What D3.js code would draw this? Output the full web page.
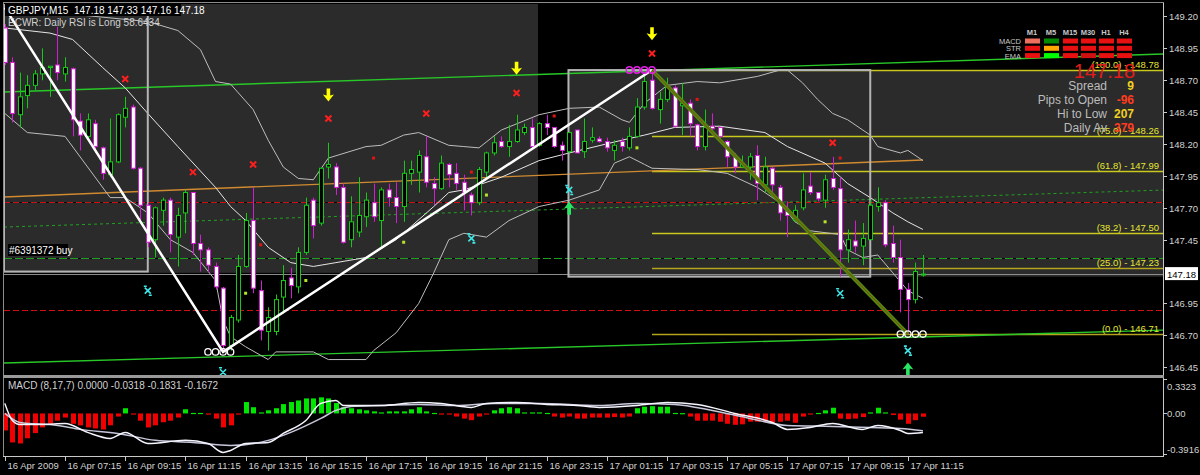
<!DOCTYPE html>
<html><head><meta charset="utf-8">
<script src="https://cdn.jsdelivr.net/npm/d3@7"></script>
<style>
html,body{margin:0;padding:0;background:#000;}
svg{display:block;font-family:"Liberation Sans",Arial,sans-serif;}
</style></head><body>
<svg id="c" width="1200" height="475"></svg>
<script>
// ---------------- DATA ----------------
const symbolTitle = "GBPJPY,M15  147.18 147.33 147.16 147.18";
const rsiText = "ECWR: Daily RSI is Long 58.6434";
const orderText = "#6391372 buy";
const macdTitle = "MACD (8,17,7) 0.0000 -0.0318 -0.1831 -0.1672";

const opens  = [149.11,148.84,148.43,148.58,148.66,148.75,148.80,148.82,148.75,148.79,148.38,148.26,148.36,148.17,147.96,148.06,148.41,148.49,148.01,147.72,147.45,147.68,147.76,147.47,147.66,147.82,147.42,147.37,147.24,147.07,146.62,146.82,147.24,147.60,147.05,146.73,146.73,147.00,147.15,147.08,147.35,147.76,147.58,148.02,148.02,147.86,147.45,147.51,147.63,147.74,147.60,147.84,147.78,147.71,147.97,147.98,148.10,147.89,147.85,148.04,147.97,147.90,147.80,147.74,147.98,148.13,148.22,148.18,148.22,148.29,148.33,148.19,148.36,148.33,148.19,148.14,148.31,148.14,148.23,148.24,148.22,148.15,148.22,148.17,148.26,148.49,148.70,148.47,148.55,148.64,148.50,148.52,148.35,148.18,148.34,148.33,148.22,148.10,148.02,148.02,148.11,147.88,148.01,147.86,147.67,147.60,147.70,147.87,147.82,147.76,147.93,147.85,147.37,147.44,147.40,147.45,147.71,147.74,147.42,147.31,147.06,146.98,147.18];
const highs  = [149.14,148.88,148.76,148.74,148.78,148.95,148.81,149.12,148.88,148.80,148.44,148.44,148.39,148.18,148.40,148.44,148.57,148.51,148.02,147.74,147.71,147.78,147.78,147.70,147.84,147.82,147.49,147.39,147.27,147.08,146.86,147.33,147.66,147.86,147.13,146.92,147.02,147.25,147.23,147.39,147.78,147.78,148.02,148.21,148.05,147.89,147.79,147.94,147.82,147.89,147.86,147.89,147.90,148.07,148.07,148.15,148.26,147.94,148.11,148.05,148.05,147.96,147.82,148.02,148.14,148.26,148.26,148.35,148.43,148.36,148.40,148.37,148.43,148.33,148.22,148.29,148.31,148.40,148.33,148.26,148.25,148.23,148.25,148.33,148.56,148.76,148.78,148.61,148.72,148.66,148.68,148.55,148.36,148.47,148.44,148.33,148.23,148.13,148.11,148.13,148.19,148.10,148.02,147.88,147.75,147.72,147.97,147.98,147.82,147.96,148.10,147.94,147.53,147.60,147.58,147.76,147.86,147.76,147.56,147.45,147.11,147.27,147.33];
const lows   = [148.82,148.37,148.33,148.48,148.62,148.70,148.57,148.70,148.69,148.26,148.15,148.23,148.13,147.92,147.94,148.05,148.33,148.00,147.60,147.39,147.31,147.56,147.35,147.24,147.50,147.33,147.20,147.19,147.06,146.57,146.58,146.80,147.23,147.03,146.66,146.58,146.70,146.87,146.99,147.03,147.33,147.46,147.56,147.93,147.80,147.42,147.39,147.47,147.55,147.59,147.39,147.71,147.58,147.59,147.88,147.82,147.86,147.72,147.84,147.86,147.84,147.68,147.64,147.72,147.94,148.11,148.17,148.10,148.21,148.27,148.17,148.18,148.27,148.17,148.07,148.13,148.13,148.09,148.21,148.21,148.14,148.07,148.14,148.15,148.25,148.47,148.47,148.36,148.53,148.33,148.27,148.26,148.15,148.15,148.31,148.21,148.02,147.97,148.01,147.92,147.76,147.82,147.82,147.60,147.47,147.59,147.68,147.80,147.75,147.70,147.84,147.16,147.27,147.35,147.25,147.45,147.67,147.39,147.27,146.88,146.71,146.95,147.16];
const closes = [148.84,148.44,148.57,148.66,148.75,148.80,148.81,148.76,148.80,148.39,148.27,148.39,148.18,147.97,148.06,148.43,148.48,148.01,147.72,147.43,147.70,147.76,147.49,147.64,147.82,147.42,147.37,147.25,147.08,146.62,146.84,147.24,147.60,147.07,146.74,146.84,146.98,147.13,147.09,147.35,147.72,147.56,148.01,148.04,147.86,147.43,147.59,147.64,147.76,147.63,147.84,147.78,147.71,147.97,148.00,148.11,147.90,147.85,148.05,147.96,147.89,147.82,147.74,148.00,148.13,148.21,148.18,148.22,148.31,148.33,148.18,148.36,148.33,148.18,148.15,148.29,148.13,148.22,148.25,148.22,148.17,148.19,148.18,148.26,148.49,148.69,148.48,148.55,148.65,148.34,148.52,148.36,148.18,148.33,148.32,148.26,148.10,148.02,148.04,148.10,147.89,148.02,147.88,147.66,147.64,147.68,147.84,147.82,147.77,147.92,147.86,147.37,147.45,147.40,147.46,147.72,147.74,147.41,147.31,147.06,146.98,147.20,147.18];

const macdHist = [-0.164,-0.28,-0.29,-0.24,-0.19,-0.135,-0.10,-0.07,-0.04,-0.10,-0.115,-0.135,-0.145,-0.155,-0.115,-0.03,0.05,-0.005,-0.07,-0.135,-0.115,-0.085,-0.07,-0.04,0.04,0.005,0.005,-0.01,-0.05,-0.135,-0.115,-0.01,0.11,0.06,0.01,0.03,0.05,0.09,0.11,0.125,0.145,0.145,0.155,0.145,0.10,0.06,0.05,0.04,0.03,0.02,0.01,0.02,0.02,0.02,0.04,0.06,0.02,0.005,-0.005,-0.01,-0.03,-0.05,-0.065,-0.03,-0.01,0.03,0.05,0.06,0.05,0.01,0.01,0.01,0.005,-0.03,-0.04,-0.03,-0.05,-0.05,-0.04,-0.04,-0.04,-0.035,-0.04,-0.03,0.05,0.065,0.07,0.065,0.065,0.005,0.003,-0.03,-0.07,-0.07,-0.07,-0.08,-0.10,-0.11,-0.105,-0.08,-0.08,-0.08,-0.09,-0.08,-0.07,-0.09,-0.03,-0.01,0.005,0.03,0.055,-0.05,-0.055,-0.05,-0.035,0.01,0.055,0.01,-0.015,-0.06,-0.10,-0.065,-0.0318];
const macdLineA = [[0,0.097],[1,-0.068],[2,-0.106],[5,-0.106],[8,-0.097],[11,-0.183],[14,-0.241],[16,-0.183],[19,-0.29],[24,-0.26],[27,-0.29],[29,-0.376],[30,-0.357],[32,-0.29],[35,-0.28],[37,-0.193],[40,-0.068],[42,0.097],[44,0.125],[45,0.077],[50,0.077],[55,0.106],[58,0.097],[62,0.058],[64,0.097],[68,0.106],[72,0.087],[76,0.077],[79,0.058],[84,0.077],[88,0.106],[92,0.087],[97,0.0],[102,-0.087],[104,-0.154],[107,-0.135],[110,-0.097],[114,-0.154],[116,-0.116],[119,-0.164],[120,-0.193],[122,-0.1831]];
const macdLineB = [[0,0.0],[2,-0.087],[7,-0.116],[10,-0.154],[15,-0.193],[20,-0.26],[25,-0.28],[30,-0.309],[35,-0.26],[38,-0.183],[42,-0.048],[44,0.029],[46,0.068],[50,0.077],[55,0.087],[60,0.077],[65,0.097],[71,0.097],[79,0.077],[84,0.097],[89,0.087],[94,0.029],[99,-0.048],[104,-0.116],[110,-0.125],[115,-0.135],[119,-0.145],[122,-0.1672]];

const bbUpper = [[0,149.27],[19,149.16],[23,149.09],[26,148.94],[28,148.69],[30,148.67],[33,148.47],[35,148.23],[37,148.02],[39,147.93],[41,147.92],[43,148.09],[48,148.18],[50,148.19],[53,148.27],[55,148.29],[59,148.19],[61,148.18],[63,148.17],[66,148.31],[71,148.43],[75,148.48],[79,148.49],[82,148.39],[83,148.37],[85,148.52],[88,148.66],[92,148.69],[95,148.68],[100,148.73],[103,148.78],[104,148.78],[106,148.68],[108,148.55],[110,148.44],[112,148.39],[115,148.27],[116,148.18],[119,148.13],[120,148.15],[122,148.07]];
const bbMiddle = [[0,149.11],[6,149.07],[9,149.02],[13,148.80],[16,148.64],[19,148.44],[23,148.18],[28,147.86],[30,147.71],[32,147.60],[35,147.39],[38,147.27],[41,147.24],[44,147.27],[48,147.31],[52,147.45],[57,147.71],[59,147.82],[61,147.84],[66,147.94],[71,148.07],[75,148.13],[82,148.23],[85,148.27],[89,148.33],[95,148.34],[101,148.29],[104,148.18],[109,148.05],[112,147.89],[115,147.78],[118,147.66],[120,147.59],[122,147.53]];
const bbLower = [[0,148.44],[3,148.29],[8,148.26],[11,148.02],[14,147.78],[16,147.78],[19,147.66],[22,147.45],[25,147.35],[28,147.13],[29,146.82],[30,146.69],[32,146.61],[35,146.51],[36,146.57],[41,146.57],[43,146.51],[48,146.51],[49,146.58],[52,146.72],[55,146.95],[57,147.19],[59,147.45],[61,147.50],[64,147.47],[67,147.60],[71,147.71],[75,147.76],[79,147.84],[81,148.05],[83,148.10],[85,148.04],[86,148.01],[92,148.00],[96,147.97],[100,147.86],[103,147.74],[105,147.59],[107,147.52],[111,147.49],[112,147.37],[114,147.31],[116,147.33],[118,147.19],[120,147.05],[122,146.99]];

const zigzag = [[0,149.27],[29,146.57],[86,148.78]];
const fiboDown = [[86,148.78],[120,146.71]];
const channelUpper = [[-0.1,148.608],[153.9,148.906]];
const channelLower = [[-0.1,146.483],[153.9,146.741]];
const orangeTrend  = [[-0.1,147.785],[122,148.075]];
const greenDashTrend = [[-0.1,147.549],[153.9,147.839]];
const redDashLevels = [147.745,146.90];
const orderLevel = 147.31;
const bidPrice = 147.18;

const fibNames  = ["(100.0)","(75.0)","(61.8)","(38.2)","(25.0)","(0.0)"];
const fibPrices = [148.78,148.26,147.99,147.50,147.23,146.71];
const fibStartBar = 86;

const shadedBoxes = [[-0.106,70.85,147.19,149.30],[115,153.9,147.16,148.78]];
const outlinedBoxes = [[74.9,115,147.16,148.78],[-0.106,19.0,147.20,149.30]];

const redCrosses   = [[7,149.23],[16,148.71],[25,147.98],[33,148.04],[43,148.40],[56,148.44],[68,148.60],[86,148.91],[110,148.21]];
const redDots      = [[34,147.41],[49,148.09],[62,147.98],[73,148.42],[92,148.55],[111,148.09]];
const limeDots     = [[32,147.03],[40,147.13],[53,147.43],[64,147.80],[84,148.17],[109,147.59]];
const cyanCrosses  = [[19,147.05],[29,146.41],[62,147.46],[75,147.84],[111,147.03],[120,146.58]];
const upArrows     = [[75,147.70],[120,146.44]];
const downArrows   = [[43,148.58],[68,148.79],[86,149.06]];
const topCircles   = [[83,148.78],[84,148.78],[85,148.78],[86,148.78]];
const lowCirclesA  = [[27,146.57],[28,146.57],[29,146.57],[30,146.57]];
const lowCirclesB  = [[119,146.71],[120,146.71],[121,146.71],[122,146.71]];

const priceTicks = [149.20,148.95,148.70,148.45,148.20,147.95,147.70,147.45,146.95,146.70,146.45];
const timeTickBars = [0,8,16,24,32,40,48,56,64,72,80,88,96,104,112,120];
const timeTickLabels = ["16 Apr 2009","16 Apr 07:15","16 Apr 09:15","16 Apr 11:15","16 Apr 13:15","16 Apr 15:15","16 Apr 17:15","16 Apr 19:15","16 Apr 21:15","16 Apr 23:15","17 Apr 01:15","17 Apr 03:15","17 Apr 05:15","17 Apr 07:15","17 Apr 09:15","17 Apr 11:15"];
const macdAxisTicks = [0.3323,0.00,-0.3916];
const macdAxisLabels = ["0.3323","0.00","-0.3916"];

const infoLabels = ["Spread","Pips to Open","Hi to Low","Daily Av"];
const infoValues = ["9","-96","207","379"];
const infoValueColors = ["#f0d020","#ff3c1e","#f0d020","#ff3c1e"];

const mtfCols = ["M1","M5","M15","M30","H1","H4"];
const mtfRows = ["MACD","STR","EMA"];
const mtfColors = [
  ["#f07060","#008a00","#e81010","#e81010","#e81010","#e81010"],
  ["#e81010","#ffa800","#e81010","#e81010","#e81010","#e81010"],
  ["#e81010","#00ff00","#e81010","#d01010","#e81010","#e81010"]
];

// ---------------- SCALES ----------------
const svg = d3.select("#c");
const PL = 4, PR = 1163, PT = 4, PB = 376;
const x = d3.scaleLinear().domain([-0.106, 153.9]).range([PL, PR]);
const y = d3.scaleLinear().domain([146.381, 149.298]).range([PB, PT]);
const ym = d3.scaleLinear().domain([-0.3916, 0.3323]).range([454, 379]);

svg.append("rect").attr("width",1200).attr("height",475).attr("fill","#000");

const defs = svg.append("defs");
defs.append("clipPath").attr("id","mainClip").append("rect").attr("x",PL).attr("y",PT).attr("width",PR-PL).attr("height",PB-PT);
defs.append("clipPath").attr("id","macdClip").append("rect").attr("x",PL).attr("y",379).attr("width",PR-PL).attr("height",77);

const main = svg.append("g").attr("clip-path","url(#mainClip)");
const lineGen = d3.line().x(d=>x(d[0])).y(d=>y(d[1]));

// shaded session areas
main.selectAll("rect.shade").data(shadedBoxes).join("rect")
  .attr("x",d=>x(d[0])).attr("width",d=>x(d[1])-x(d[0]))
  .attr("y",d=>y(d[3])).attr("height",d=>y(d[2])-y(d[3]))
  .attr("fill","#2b2b2b");
main.selectAll("rect.shadeB").data(outlinedBoxes.slice(0,1)).join("rect")
  .attr("x",d=>x(d[0])).attr("width",d=>x(d[1])-x(d[0]))
  .attr("y",d=>y(d[3])).attr("height",d=>y(d[2])-y(d[3]))
  .attr("fill","#2b2b2b");

// horizontal dashed levels
redDashLevels.forEach(p=>{
  main.append("line").attr("x1",PL).attr("x2",PR).attr("y1",Math.round(y(p))+0.5).attr("y2",Math.round(y(p))+0.5).attr("stroke","#000").attr("stroke-width",1);
  main.append("line").attr("x1",PL).attr("x2",PR).attr("y1",Math.round(y(p))+0.5).attr("y2",Math.round(y(p))+0.5).attr("stroke","#d01010").attr("stroke-width",1).attr("stroke-dasharray","6 3");
});
main.append("line").attr("x1",PL).attr("x2",PR).attr("y1",Math.round(y(orderLevel))+0.5).attr("y2",Math.round(y(orderLevel))+0.5).attr("stroke","#000");
main.append("line").attr("x1",PL).attr("x2",PR).attr("y1",Math.round(y(orderLevel))+0.5).attr("y2",Math.round(y(orderLevel))+0.5).attr("stroke","#1ea01e").attr("stroke-dasharray","8 3");
main.append("path").attr("d",lineGen(greenDashTrend)).attr("fill","none").attr("stroke","#20a020").attr("stroke-dasharray","3 3");
main.append("line").attr("x1",PL).attr("x2",PR).attr("y1",Math.round(y(bidPrice))+0.5).attr("y2",Math.round(y(bidPrice))+0.5).attr("stroke","#8c8c8c");

// fib lines
fibPrices.forEach((p,k)=>{
  main.append("line").attr("x1",x(fibStartBar)).attr("x2",PR)
    .attr("y1",Math.round(y(p))+0.5).attr("y2",Math.round(y(p))+0.5)
    .attr("stroke", k>=4 ? "#b4a41e" : "#c8c81e").attr("stroke-width",1.3);
});

// channels
main.append("path").attr("d",lineGen(channelUpper)).attr("fill","none").attr("stroke","#28c828").attr("stroke-width",1.4);
main.append("path").attr("d",lineGen(channelLower)).attr("fill","none").attr("stroke","#28c828").attr("stroke-width",1.4);
main.append("path").attr("d",lineGen(orangeTrend)).attr("fill","none").attr("stroke","#d08a30").attr("stroke-width",1.4);

// bollinger
main.append("path").attr("d",lineGen(bbUpper)).attr("fill","none").attr("stroke","#bdbdbd").attr("stroke-width",1);
main.append("path").attr("d",lineGen(bbMiddle)).attr("fill","none").attr("stroke","#e6e6e6").attr("stroke-width",1);
main.append("path").attr("d",lineGen(bbLower)).attr("fill","none").attr("stroke","#bdbdbd").attr("stroke-width",1);

// outlined boxes
main.selectAll("rect.out").data(outlinedBoxes).join("rect")
  .attr("x",d=>x(d[0])).attr("width",d=>x(d[1])-x(d[0]))
  .attr("y",d=>y(d[3])).attr("height",d=>y(d[2])-y(d[3]))
  .attr("fill","none").attr("stroke","#b4b4b4").attr("stroke-width",2);

// candles
const bars = d3.range(opens.length).map(i=>({i,o:opens[i],h:highs[i],l:lows[i],c:closes[i]}));
const cg = main.append("g");
bars.forEach(b=>{
  const bull = b.c >= b.o;
  const cx = Math.round(x(b.i));
  const col = bull ? "#18c818" : "#d21ed2";
  cg.append("line").attr("x1",cx+0.5).attr("x2",cx+0.5).attr("y1",y(b.h)).attr("y2",y(b.l)).attr("stroke",col).attr("stroke-width",1);
  const top = y(Math.max(b.o,b.c)), bot = y(Math.min(b.o,b.c));
  cg.append("rect").attr("x",cx-1.5).attr("width",4).attr("y",top).attr("height",Math.max(1,bot-top))
    .attr("fill", bull ? "#000" : "#fff").attr("stroke",col).attr("stroke-width",1);
});

// zigzag & fibo diagonal
main.append("path").attr("d",lineGen(zigzag)).attr("fill","none").attr("stroke","#fff").attr("stroke-width",2.5);
main.append("path").attr("d",lineGen(fiboDown)).attr("fill","none").attr("stroke","#4f8a12").attr("stroke-width",4);
main.append("path").attr("d",lineGen(fiboDown)).attr("fill","none").attr("stroke","#a0320a").attr("stroke-width",1).attr("opacity",0.8);

// markers
const crossPath = s => `M${-s},${-s}L${s},${s}M${s},${-s}L${-s},${s}`;
main.selectAll("path.rx").data(redCrosses).join("path")
  .attr("transform",d=>`translate(${x(d[0])},${y(d[1])})`).attr("d",crossPath(3)).attr("stroke","#ff1e1e").attr("stroke-width",2);
main.selectAll("path.cx").data(cyanCrosses).join("path")
  .attr("transform",d=>`translate(${x(d[0])},${y(d[1])})`).attr("d",crossPath(3)+"M-4,-4.5L-1,-4.5M1,4.5L4,4.5").attr("stroke","#3ce6e6").attr("stroke-width",1.6);
main.selectAll("rect.rd").data(redDots).join("rect")
  .attr("x",d=>x(d[0])-1.5).attr("y",d=>y(d[1])-1.5).attr("width",3).attr("height",3).attr("fill","#e01414");
main.selectAll("rect.ld").data(limeDots).join("rect")
  .attr("x",d=>x(d[0])-1.5).attr("y",d=>y(d[1])-1.5).attr("width",3).attr("height",3).attr("fill","#b4e628");
const downArrow = "M-1.8,-7L1.8,-7L1.8,0L5.5,-1L0,6L-5.5,-1L-1.8,0Z";
main.selectAll("path.da").data(downArrows).join("path")
  .attr("transform",d=>`translate(${x(d[0])},${y(d[1])})`).attr("d",downArrow).attr("fill","#ffff00");
main.selectAll("path.ua").data(upArrows).join("path")
  .attr("transform",d=>`translate(${x(d[0])},${y(d[1])}) scale(1,-1)`).attr("d",downArrow).attr("fill","#28e664");
main.selectAll("circle.tc").data(topCircles).join("circle")
  .attr("cx",d=>x(d[0])).attr("cy",d=>y(d[1])).attr("r",3.2).attr("fill","none").attr("stroke","#e61ee6").attr("stroke-width",1.5);
main.selectAll("circle.lc").data(lowCirclesA.concat(lowCirclesB)).join("circle")
  .attr("cx",d=>x(d[0])).attr("cy",d=>y(d[1])).attr("r",3.2).attr("fill","none").attr("stroke","#fff").attr("stroke-width",1.3);

// fib labels
fibPrices.forEach((p,k)=>{
  main.append("text").attr("x",PR-4).attr("y",y(p)-2).attr("text-anchor","end")
    .attr("font-size",9.5).attr("fill","#e6e632").text(`${fibNames[k]} - ${p.toFixed(2)}`);
});

// header texts
svg.append("rect").attr("x",5).attr("y",4).attr("width",176).attr("height",12).attr("fill","#000");
svg.append("text").attr("x",8).attr("y",14).attr("font-size",10).attr("fill","#fff").attr("xml:space","preserve").text(symbolTitle);
svg.append("text").attr("x",8).attr("y",26).attr("font-size",10).attr("fill","#d2d2d2").text(rsiText);
svg.append("rect").attr("x",8).attr("y",244).attr("width",60).attr("height",12).attr("fill","#000");
svg.append("text").attr("x",9).attr("y",254).attr("font-size",10).attr("fill","#fff").text(orderText);

// info panel
svg.append("text").attr("x",1135).attr("y",78).attr("text-anchor","end").attr("font-size",20).attr("fill","#e01c1c").text(bidPrice.toFixed(2));
infoLabels.forEach((t,k)=>{
  svg.append("text").attr("x",1107).attr("y",90+k*14).attr("text-anchor","end").attr("font-size",12).attr("fill","#bcbcbc").text(t);
  svg.append("text").attr("x",1134).attr("y",90+k*14).attr("text-anchor","end").attr("font-size",12).attr("font-weight","bold").attr("fill",infoValueColors[k]).text(infoValues[k]);
});

// MTF panel
const colX = [1025,1044,1063,1081,1099,1117];
mtfCols.forEach((c,j)=>svg.append("text").attr("x",colX[j]+7).attr("y",35).attr("text-anchor","middle").attr("font-size",7.5).attr("font-weight","bold").attr("fill","#c8c8c8").text(c));
mtfRows.forEach((r,i)=>{
  svg.append("text").attr("x",1021).attr("y",44+i*7.3).attr("text-anchor","end").attr("font-size",7.5).attr("fill","#c8c8c8").text(r);
  mtfCols.forEach((c,j)=>svg.append("rect").attr("x",colX[j]).attr("y",38.5+i*7.3).attr("width",15).attr("height",5).attr("fill",mtfColors[i][j]));
});

// ---------------- AXES ----------------
svg.append("line").attr("x1",PR+0.5).attr("x2",PR+0.5).attr("y1",2).attr("y2",457).attr("stroke","#c8c8c8");
svg.append("line").attr("x1",3.5).attr("x2",3.5).attr("y1",2).attr("y2",457).attr("stroke","#8c8c8c");
svg.append("line").attr("x1",3).attr("x2",PR+1).attr("y1",2.5).attr("y2",2.5).attr("stroke","#8c8c8c");
svg.append("rect").attr("x",3).attr("y",375).attr("width",PR-2).attr("height",3).attr("fill","#9a9a9a");
svg.append("line").attr("x1",3).attr("x2",PR+1).attr("y1",456.5).attr("y2",456.5).attr("stroke","#c8c8c8");

const ya = svg.append("g");
priceTicks.forEach(p=>{
  const yy = Math.round(y(p))+0.5;
  ya.append("line").attr("x1",PR).attr("x2",PR+4).attr("y1",yy).attr("y2",yy).attr("stroke","#c8c8c8");
  ya.append("text").attr("x",PR+6).attr("y",yy+3.5).attr("font-size",9.5).attr("fill","#d2d2d2").text(p.toFixed(2));
});
ya.append("rect").attr("x",PR+2).attr("y",y(bidPrice)-7).attr("width",33).attr("height",13).attr("fill","#fff");
ya.append("text").attr("x",PR+4).attr("y",y(bidPrice)+3.5).attr("font-size",9.5).attr("fill","#000").text(bidPrice.toFixed(2));

timeTickBars.forEach((b,k)=>{
  const xx = Math.round(x(b))+0.5;
  svg.append("line").attr("x1",xx).attr("x2",xx).attr("y1",456).attr("y2",461).attr("stroke","#c8c8c8");
  svg.append("text").attr("x",xx+2).attr("y",469).attr("font-size",9.5).attr("fill","#d2d2d2").text(timeTickLabels[k]);
});

// ---------------- MACD ----------------
const mg = svg.append("g").attr("clip-path","url(#macdClip)");
mg.selectAll("rect").data(macdHist).join("rect")
  .attr("x",(d,i)=>Math.round(x(i))-2).attr("width",5)
  .attr("y",d=>d>=0 ? ym(d) : ym(0)).attr("height",d=>Math.max(1.2,Math.abs(ym(d)-ym(0))))
  .attr("fill",d=>d>=0 ? "#00e600" : "#f00000");
const mline = d3.line().x(d=>x(d[0])).y(d=>ym(d[1])).curve(d3.curveMonotoneX);
mg.append("path").attr("d",mline(macdLineB)).attr("fill","none").attr("stroke","#c8c8dc").attr("stroke-width",1.5);
mg.append("path").attr("d",mline(macdLineA)).attr("fill","none").attr("stroke","#f5f5ff").attr("stroke-width",1.5);
svg.append("text").attr("x",8).attr("y",389).attr("font-size",10).attr("fill","#d2d2d2").text(macdTitle);
macdAxisTicks.forEach((v,k)=>{
  const yy = Math.round(ym(v))+0.5;
  svg.append("line").attr("x1",PR).attr("x2",PR+4).attr("y1",yy).attr("y2",yy).attr("stroke","#c8c8c8");
  const ty = k===0 ? yy+10 : (k===2 ? yy-2 : yy+3.5);
  svg.append("text").attr("x",PR+4).attr("y",ty).attr("font-size",9.5).attr("fill","#d2d2d2").text(macdAxisLabels[k]);
});
</script></body></html>
